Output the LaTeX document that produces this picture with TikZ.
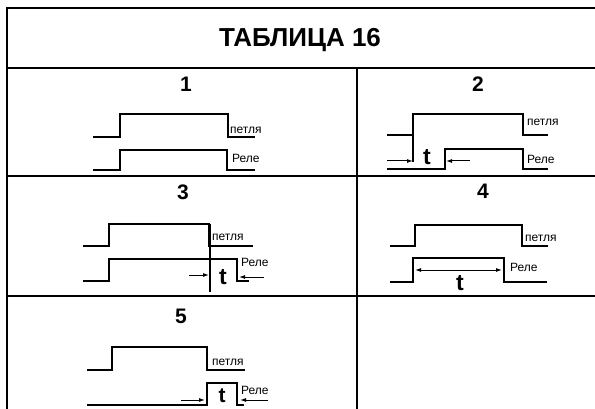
\documentclass[tikz,border=0pt]{standalone}
\usepackage{fontspec}
\setmainfont{Liberation Sans}
\usetikzlibrary{arrows.meta}
\begin{document}
\begin{tikzpicture}[x=1pt,y=-1pt,
  frame/.style={line width=2.6pt},
  wave/.style={line width=2.5pt, line join=miter},
  tarrow/.style={line width=1pt,-{Latex[length=6pt,width=4pt]}},
  darrow/.style={line width=1pt,{Latex[length=6pt,width=4pt]}-{Latex[length=6pt,width=4pt]}},
  num/.style={font=\bfseries\fontsize{21}{21}\selectfont, inner sep=0pt},
  lbl/.style={font=\fontsize{12}{12}\selectfont, inner sep=0pt, anchor=west},
  tlbl/.style={font=\bfseries\fontsize{23}{23}\selectfont, inner sep=0pt}]
\useasboundingbox (0,0) rectangle (595,409);
\fill[white] (0,0) rectangle (595,409);
% frame
\draw[frame] (7,8) -- (596,8);
\draw[frame] (7,68) -- (596,68);
\draw[frame] (7,176) -- (596,176);
\draw[frame] (7,296) -- (596,296);
\draw[frame] (7,6.7) -- (7,410);
\draw[frame] (357,68) -- (357,410);
% title
\node[font=\bfseries\fontsize{26}{26}\selectfont, inner sep=0pt] (title) at (300,40) {ТАБЛИЦА 16};
% numbers
\node[num] (n1) at (186,84) {1};
\node[num] (n2) at (478,84) {2};
\node[num] (n3) at (183,192) {3};
\node[num] (n4) at (483,191) {4};
\node[num] (n5) at (181,316) {5};
% ---- cell 1
\draw[wave] (93,137) -- (120,137) -- (120,114) -- (228,114) -- (228,137) -- (255,137);
\draw[wave] (93,170) -- (120,170) -- (120,150) -- (227,150) -- (227,170) -- (255,170);
\node[lbl] (p1) at (230,130) {петля};
\node[lbl] (r1) at (232,158) {Реле};
% ---- cell 2
\draw[wave] (387,135) -- (413,135) -- (413,114) -- (523,114) -- (523,135) -- (548,135);
\draw[line width=1.4pt] (413,135) -- (413,162);
\draw[wave] (387,169) -- (445,169) -- (445,149) -- (523,149) -- (523,169) -- (548,169);
\node[lbl] (p2) at (527,122) {петля};
\node[lbl] (r2) at (527,159) {Реле};
\coordinate (a2l) at (413,161);
\coordinate (a2r) at (446,161);
\coordinate (s2l) at (387,161);
\coordinate (s2r) at (470,161);
\draw[tarrow] (s2l) -- (a2l);
\draw[tarrow] (s2r) -- (a2r);
\node[tlbl] (t2) at (427,157) {t};
% ---- cell 3
\draw[wave] (83,246) -- (109,246) -- (109,224) -- (209,224) -- (209,246) -- (253,246);
\draw[line width=1.2pt] (210,224) -- (210,292);
\draw[wave] (83,281) -- (109,281) -- (109,259) -- (237,259) -- (237,281) -- (249,281);
\node[lbl] (p3) at (212,237) {петля};
\node[lbl] (r3) at (241,262) {Реле};
\coordinate (a3l) at (209,275);
\coordinate (a3r) at (239,277);
\coordinate (s3l) at (189,275);
\coordinate (s3r) at (264,277);
\draw[tarrow] (s3l) -- (a3l);
\draw[tarrow] (s3r) -- (a3r);
\node[tlbl] (t3) at (223,277) {t};
% ---- cell 4
\draw[wave] (390,246) -- (415,246) -- (415,225) -- (522,225) -- (522,246) -- (548,246);
\draw[wave] (390,282) -- (413,282) -- (413,258) -- (504,258) -- (504,282) -- (547,282);
\node[lbl] (p4) at (525,238) {петля};
\node[lbl] (r4) at (510,267) {Реле};
\coordinate (a4l) at (415,270);
\coordinate (a4r) at (502,270);
\draw[darrow] (a4l) -- (a4r);
\node[tlbl] (t4) at (460,283) {t};
% ---- cell 5
\draw[wave] (87,370) -- (112,370) -- (112,347) -- (207,347) -- (207,370) -- (245,370);
\draw[wave] (87,405) -- (207,405) -- (207,383) -- (237,383) -- (237,405) -- (244,405);
\node[lbl] (p5) at (212,362) {петля};
\node[lbl] (r5) at (241,390) {Реле};
\coordinate (a5l) at (205,400);
\coordinate (a5r) at (240,400);
\coordinate (s5l) at (181,400);
\coordinate (s5r) at (268,400);
\draw[tarrow] (s5l) -- (a5l);
\draw[tarrow] (s5r) -- (a5r);
\node[font=\bfseries\fontsize{21}{21}\selectfont, inner sep=0pt] (t5) at (222,396) {t};
\end{tikzpicture}
\end{document}
